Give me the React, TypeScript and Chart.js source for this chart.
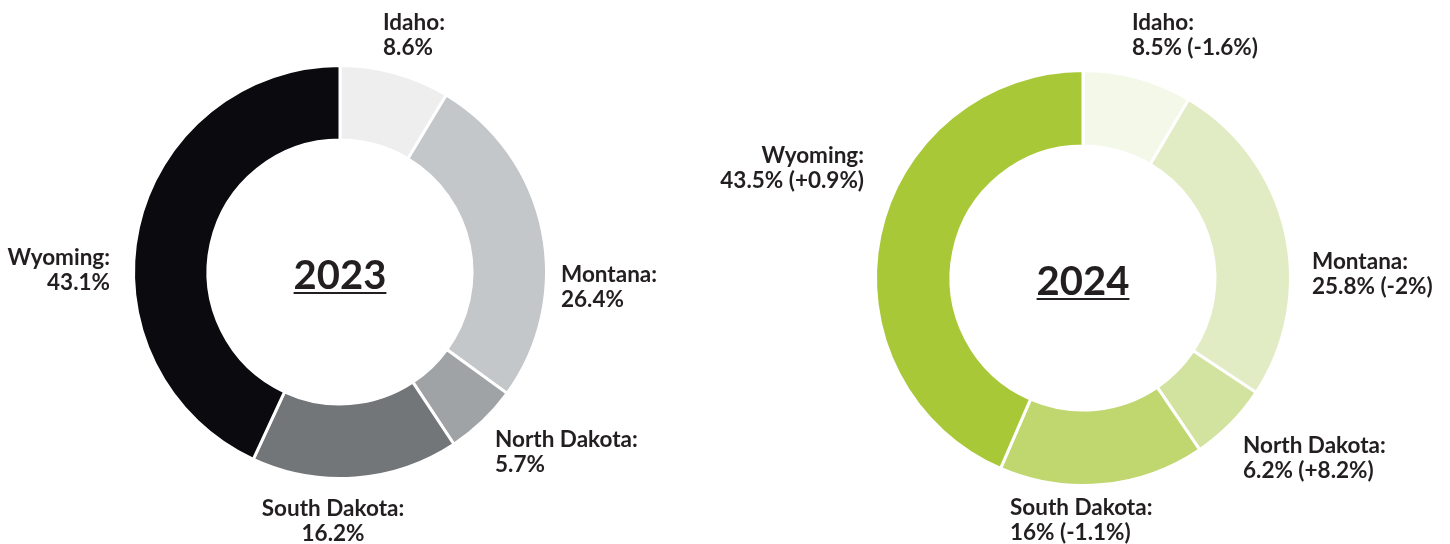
import React, { useEffect, useRef } from "react";
import { Chart, registerables } from "chart.js";

Chart.register(...registerables);

// ---- data ----
const states = ["Idaho", "Montana", "North Dakota", "South Dakota", "Wyoming"];
const share2023 = [8.6, 26.4, 5.7, 16.2, 43.1];
const share2024 = [8.5, 25.8, 6.2, 16, 43.5];
const change2024 = ["-1.6%", "-2%", "+8.2%", "-1.1%", "+0.9%"];
const years = ["2023", "2024"];

// ---- styles ----
const colors2023 = ["#eeeeee", "#c4c7c9", "#a0a3a6", "#737679", "#0b0b0f"];
const colors2024 = ["#f3f8e8", "#e2ecc4", "#d2e29f", "#c0d66f", "#a9c838"];
const TEXT = "#231f20";
const FONT = "Lato, 'Open Sans', sans-serif";

type LabelPos = { dx: number; dy: number; align: CanvasTextAlign };
const labelLayout2023: LabelPos[] = [
  { dx: 43, dy: -242, align: "left" },
  { dx: 221, dy: 10, align: "left" },
  { dx: 155, dy: 175, align: "left" },
  { dx: -7, dy: 244, align: "center" },
  { dx: -230, dy: -7, align: "right" },
];
const labelLayout2024: LabelPos[] = [
  { dx: 49, dy: -248, align: "left" },
  { dx: 229, dy: -9, align: "left" },
  { dx: 160, dy: 175, align: "left" },
  { dx: -73, dy: 237, align: "left" },
  { dx: -219, dy: -115, align: "right" },
];

function makeLabelPlugin(title: string, lines: string[][], layout: LabelPos[]) {
  return {
    id: "donutLabels" + title,
    afterDraw(chart: any) {
      const ctx = chart.ctx as CanvasRenderingContext2D;
      const arc = chart.getDatasetMeta(0).data[0] as any;
      if (!arc) return;
      const cx = arc.x;
      const cy = arc.y;
      ctx.save();
      ctx.fillStyle = TEXT;
      ctx.textBaseline = "alphabetic";
      ctx.font = `bold 22.5px ${FONT}`;
      lines.forEach((ls, i) => {
        const p = layout[i];
        ctx.textAlign = p.align;
        ls.forEach((t, j) => {
          ctx.fillText(t, cx + p.dx, cy + p.dy + j * 25);
        });
      });
      // centre title, underlined
      ctx.font = `bold 40px ${FONT}`;
      ctx.textAlign = "center";
      const by = cy + 17;
      ctx.fillText(title, cx, by);
      const w = ctx.measureText(title).width;
      ctx.fillRect(cx - w / 2, by + 3, w, 2);
      ctx.restore();
    },
  };
}

function Donut(props: {
  values: number[];
  colors: string[];
  title: string;
  lines: string[][];
  layout: LabelPos[];
  width: number;
  height: number;
  padding: { left: number; right: number; top: number; bottom: number };
  radius: number;
  inner: number;
  style: React.CSSProperties;
}) {
  const ref = useRef<HTMLCanvasElement>(null);
  useEffect(() => {
    if (!ref.current) return;
    const chart = new Chart(ref.current, {
      type: "doughnut",
      data: {
        labels: states,
        datasets: [
          {
            data: props.values,
            backgroundColor: props.colors,
            borderColor: "#ffffff",
            borderWidth: 3,
            hoverOffset: 0,
          },
        ],
      },
      options: {
        animation: false,
        responsive: false,
        devicePixelRatio: 1,
        radius: props.radius,
        cutout: `${(props.inner / props.radius) * 100}%`,
        layout: { padding: props.padding },
        plugins: { legend: { display: false }, tooltip: { enabled: false } },
        events: [],
      } as any,
      plugins: [makeLabelPlugin(props.title, props.lines, props.layout)],
    });
    return () => chart.destroy();
  }, []);
  return <canvas ref={ref} width={props.width} height={props.height} style={props.style} />;
}

export default function App() {
  useEffect(() => {
    document.body.style.margin = "0";
  }, []);
  const lines2023 = states.map((s, i) => [`${s}:`, `${share2023[i]}%`]);
  const lines2024 = states.map((s, i) => [`${s}:`, `${share2024[i]}% (${change2024[i]})`]);
  return (
    <div style={{ position: "absolute", left: 0, top: 0, width: 1450, height: 544, background: "#fff" }}>
      <Donut
        values={share2023}
        colors={colors2023}
        title={years[0]}
        lines={lines2023}
        layout={labelLayout2023}
        width={680}
        height={544}
        padding={{ left: 0, right: 0, top: 0, bottom: 0 }}
        radius={206.5}
        inner={132}
        style={{ position: "absolute", left: 0, top: 0 }}
      />
      <Donut
        values={share2024}
        colors={colors2024}
        title={years[1]}
        lines={lines2024}
        layout={labelLayout2024}
        width={750}
        height={544}
        padding={{ left: 16, right: 0, top: 12, bottom: 0 }}
        radius={207.5}
        inner={132}
        style={{ position: "absolute", left: 700, top: 0 }}
      />
    </div>
  );
}
